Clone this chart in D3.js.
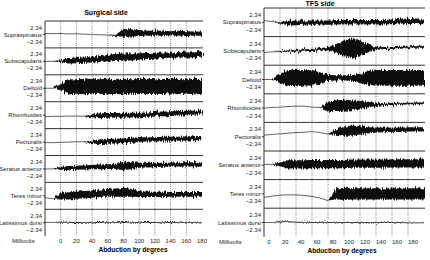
<!DOCTYPE html>
<html>
<head>
<meta charset="utf-8">
<script src="https://cdn.jsdelivr.net/npm/d3@7"></script>
<style>
  body { margin: 0; background: #fff; }
  svg { display: block; font-family: 'Liberation Sans', Arial, sans-serif; }
</style>
</head>
<body>
<div id="chart"></div>
<script>
'use strict';

// abduction angle (degrees) at which each envelope value was read
const degrees = [-20, -10, 0, 10, 20, 30, 40, 50, 60, 70, 80, 90, 100, 110, 120, 130, 140, 150, 160, 170, 180];
const tickDegrees = [0, 20, 40, 60, 80, 100, 120, 140, 160, 180];
const gridDegrees = [0, 20, 40, 60, 80, 100, 120, 140, 160];
const muscles = ['Supraspinatus', 'Subscapularis', 'Deltoid', 'Rhomboides', 'Pectoralis',
  'Seratus anterior', 'Teres minor', 'Latissimus dorsi'];
const rangeMv = 2.34;

// baseline drift of each trace (mV)
const surgicalOffsets = [
  [0.3, 0.3, 0.3, 0.2, 0.2, 0.1, 0, -0.1, -0.2, -0.3, 0.5, 0.5, 0.5, 0.4, 0.4, 0.4, 0.4, 0.4, 0.3, 0.3, 0.3],
  [0, 0, 0.1, 0.2, 0.3, 0.4, 0.6, 0.8, 1.1, 1.3, 1.4, 1.5, 1.6, 1.8, 1.9, 2.0, 2.1, 2.2, 2.3, 2.4, 2.5],
  [0, 0, 0.3, 0.5, 0.6, 0.6, 0.6, 0.6, 0.6, 0.6, 0.6, 0.6, 0.6, 0.6, 0.6, 0.6, 0.6, 0.6, 0.6, 0.6, 0.6],
  [-0.5, -0.4, -0.4, -0.3, -0.3, -0.4, -0.2, -0.2, -0.1, -0.1, 0, 0, 0.1, 0.2, 0.3, 0.4, 0.5, 0.6, 0.7, 0.8, 0.9],
  [-0.2, -0.2, -0.1, 0, 0.1, 0.1, 0, 0.1, 0.2, 0.3, 0.4, 0.6, 0.8, 0.9, 0.9, 1.0, 1.0, 1.1, 1.2, 1.3, 1.3],
  [0, 0, 0.2, 0.3, 0.4, 0.5, 0.6, 0.7, 0.8, 0.9, 1.0, 1.1, 1.2, 1.3, 1.3, 1.4, 1.4, 1.5, 1.5, 1.5, 1.5],
  [-0.6, -1.0, -0.2, 0, 0.2, 0.4, 0.6, 0.8, 1.0, 1.1, 1.2, 1.0, 0.6, 0.5, 0.5, 0.5, 0.5, 0.5, 0.5, 0.5, 0.5],
  [0.1, 0.1, 0.1, 0.1, 0.1, 0.1, 0.1, 0.1, 0.1, 0.1, 0.1, 0.1, 0.1, 0.1, 0.1, 0.1, 0.1, 0.1, 0.1, 0.1, 0.1]
];

// half width of the EMG burst envelope (mV)
const surgicalAmps = [
  [0, 0, 0, 0, 0, 0, 0, 0, 0, 0.2, 1.3, 1.2, 1.0, 0.8, 0.8, 0.8, 0.7, 0.8, 0.8, 0.7, 0.7],
  [0, 0, 0.3, 0.9, 0.9, 0.9, 1.0, 1.0, 1.1, 1.2, 1.2, 1.2, 1.1, 1.0, 1.0, 0.9, 0.9, 0.9, 1.0, 1.0, 1.0],
  [0, 0, 1.0, 2.5, 2.4, 2.6, 2.5, 2.4, 2.6, 2.5, 2.6, 2.4, 2.5, 2.6, 2.4, 2.5, 2.6, 2.5, 2.4, 2.6, 2.5],
  [0, 0, 0, 0, 0, 0, 0.5, 0.8, 0.8, 0.8, 0.8, 0.8, 0.8, 0.7, 0.8, 0.8, 0.8, 0.8, 0.8, 0.7, 0.7],
  [0, 0, 0, 0, 0, 0, 0.4, 0.8, 0.8, 0.8, 0.8, 0.8, 0.8, 0.7, 0.7, 0.8, 0.8, 0.7, 0.7, 0.7, 0.7],
  [0, 0, 0.5, 0.7, 0.7, 0.7, 0.7, 0.8, 0.8, 0.8, 1.4, 1.2, 0.8, 0.8, 0.7, 0.7, 0.7, 0.7, 0.7, 0.7, 0.7],
  [0, 0, 1.0, 1.2, 1.2, 1.2, 1.2, 1.2, 1.3, 1.4, 1.5, 1.3, 1.0, 0.9, 0.9, 0.9, 0.8, 0.8, 0.8, 0.8, 0.8],
  [0, 0, 0.1, 0.1, 0.15, 0.1, 0.1, 0.15, 0.1, 0.1, 0.15, 0.1, 0.1, 0.15, 0.1, 0.1, 0.15, 0.1, 0.1, 0.1, 0.1]
];

const tfsOffsets = [
  [0.5, 0.3, -0.2, -0.2, -0.2, -0.1, -0.1, -0.1, -0.1, 0, 0, 0, 0, 0, 0, 0, 0.1, 0.4, 0.3, 0.2, 0.1],
  [-0.5, -0.3, -0.2, -0.1, 0, 0.2, 0.3, 0.5, 0.7, 0.8, 0.8, 0.8, 0.8, 0.8, 0.8, 0.9, 0.9, 1.0, 1.1, 1.3, 1.3],
  [0, 0, 0.3, 0.5, 0.5, 0.5, 0.5, 0.5, 0.5, 0.5, 0.5, 0.5, 0.5, 0.5, 0.5, 0.5, 0.5, 0.5, 0.5, 0.5, 0.5],
  [0, 0.2, 0.3, 0.5, 0.6, 0.6, 0.3, 0.2, 0.6, 0.8, 0.9, 0.9, 0.9, 1.1, 1.2, 1.2, 1.3, 1.4, 1.4, 1.5, 1.5],
  [0.5, 0.7, 0.9, 1.1, 1.3, 1.4, 1.6, 1.3, 0.8, 1.5, 1.7, 1.9, 2.0, 2.0, 2.1, 2.1, 2.2, 2.2, 2.3, 2.3, 2.3],
  [0.3, 0.3, 0.3, 0.3, 0.3, 0.3, 0.4, 0.4, 0.4, 0.4, 0.4, 0.5, 0.5, 0.5, 0.5, 0.5, 0.6, 0.6, 0.6, 0.6, 0.6],
  [-1.1, -0.7, -0.4, -0.3, -0.3, -0.5, -0.8, -1.3, -2.1, 0, 0, 0, 0, 0, 0, 0, 0, 0, 0, 0, 0],
  [0, 0, 0.2, 0.3, 0.1, 0, 0, 0, 0, 0, 0, 0, 0, 0, 0, 0, 0, 0, -0.1, -0.1, -0.1]
];

const tfsAmps = [
  [0, 0, 0.2, 0.7, 0.7, 0.7, 0.7, 0.7, 0.7, 0.7, 0.7, 0.7, 0.7, 0.7, 0.7, 0.7, 0.7, 0.8, 0.8, 0.7, 0.7],
  [0, 0, 0.1, 0.25, 0.3, 0.3, 0.3, 0.4, 0.5, 1.3, 2.5, 3.1, 2.5, 1.3, 0.5, 0.3, 0.3, 0.3, 0.3, 0.3, 0.3],
  [0, 0, 1.5, 2.5, 2.6, 2.4, 2.5, 1.8, 1.0, 0.8, 0.8, 0.9, 1.3, 2.2, 2.5, 2.5, 2.5, 2.5, 2.5, 2.5, 2.5],
  [0, 0, 0, 0, 0, 0, 0, 0, 1.4, 1.7, 1.7, 1.6, 1.3, 0.9, 0.5, 0.3, 0.3, 0.3, 0.3, 0.3, 0.3],
  [0, 0, 0, 0, 0, 0, 0, 0, 0, 0.9, 1.4, 1.6, 1.3, 1.0, 0.8, 0.7, 0.7, 0.7, 0.7, 0.7, 0.7],
  [0, 0, 0.6, 1.3, 1.3, 1.3, 1.3, 1.3, 1.3, 1.3, 1.3, 1.3, 1.3, 1.3, 1.3, 1.3, 1.3, 1.3, 1.3, 1.3, 1.3],
  [0, 0, 0, 0, 0, 0, 0, 0, 0, 1.7, 1.9, 1.8, 1.8, 1.8, 1.8, 1.8, 1.8, 1.8, 1.8, 1.8, 1.8],
  [0, 0, 0.1, 0.1, 0.05, 0.05, 0.05, 0.05, 0.05, 0.05, 0.05, 0.05, 0.05, 0.05, 0.05, 0.05, 0.05, 0.05, 0.05, 0.05, 0.05]
];

(function() {
  const width = 430;
  const height = 260;

  const panels = [
    {title: 'Surgical side', offsets: surgicalOffsets, amps: surgicalAmps,
      left: 45, right: 202, top: 21, rowH: 26.9, titleX: 106, titleY: 15,
      tickDx: 0, tickY: 243, mvX: 12, xTitleX: 133, xTitleY: 252},
    {title: 'TFS side', offsets: tfsOffsets, amps: tfsAmps,
      left: 264, right: 424, top: 8, rowH: 28.6, titleX: 320, titleY: 6,
      tickDx: -11, tickY: 244, mvX: 219, xTitleX: 342, xTitleY: 253}
  ];

  const svg = d3.select('#chart')
    .append('svg')
    .attr('width', width)
    .attr('height', height);

  // ragged edge texture for the EMG bands
  const filter = svg.append('defs').append('filter')
    .attr('id', 'emg')
    .attr('x', '-2%').attr('y', '-60%')
    .attr('width', '104%').attr('height', '220%');
  filter.append('feTurbulence')
    .attr('type', 'fractalNoise')
    .attr('baseFrequency', '0.9 0.03')
    .attr('numOctaves', 2)
    .attr('seed', 4)
    .attr('result', 'noise');
  filter.append('feDisplacementMap')
    .attr('in', 'SourceGraphic')
    .attr('in2', 'noise')
    .attr('scale', 6)
    .attr('xChannelSelector', 'R')
    .attr('yChannelSelector', 'G');

  panels.forEach(function(p) {
    const g = svg.append('g');
    const bottom = p.top + p.rowH * muscles.length;

    const x = d3.scaleLinear()
      .domain([-20, 180])
      .range([p.left, p.right]);

    // vertical dotted grid
    g.selectAll('.grid')
      .data(gridDegrees)
      .enter()
      .append('line')
      .attr('x1', d => x(d)).attr('x2', d => x(d))
      .attr('y1', p.top).attr('y2', bottom)
      .attr('stroke', '#555')
      .attr('stroke-width', 0.8)
      .attr('stroke-dasharray', '1,1.2');

    // row separators
    g.selectAll('.sep')
      .data(d3.range(muscles.length))
      .enter()
      .append('line')
      .attr('x1', p.left).attr('x2', p.right + 1)
      .attr('y1', i => p.top + i * p.rowH).attr('y2', i => p.top + i * p.rowH)
      .attr('stroke', '#333')
      .attr('stroke-width', 1);

    g.append('line')
      .attr('x1', p.left).attr('x2', p.left)
      .attr('y1', p.top).attr('y2', bottom)
      .attr('stroke', '#333')
      .attr('stroke-width', 1);

    muscles.forEach(function(name, i) {
      const y = d3.scaleLinear()
        .domain([-4.5, 4.5])
        .range([p.top + (i + 1) * p.rowH, p.top + i * p.rowH]);

      const pts = degrees.map((d, k) => ({deg: d, off: p.offsets[i][k], amp: p.amps[i][k]}));

      const area = d3.area()
        .x(d => x(d.deg))
        .y0(d => y(d.off - d.amp))
        .y1(d => y(d.off + d.amp));

      const line = d3.line()
        .x(d => x(d.deg))
        .y(d => y(d.off));

      g.append('path')
        .attr('d', line(pts))
        .attr('fill', 'none')
        .attr('stroke', '#222')
        .attr('stroke-width', 0.7);

      g.append('path')
        .attr('d', area(pts))
        .attr('fill', '#111')
        .attr('filter', 'url(#emg)');

      g.append('line')
        .attr('x1', p.left - 2).attr('x2', p.left)
        .attr('y1', y(0)).attr('y2', y(0))
        .attr('stroke', '#333');

      const labels = [[rangeMv, '2.34'], [0, name], [-rangeMv, '\u22122.34']];
      g.selectAll('.lab' + i)
        .data(labels)
        .enter()
        .append('text')
        .attr('x', p.left - 3)
        .attr('y', d => y(d[0]))
        .attr('dy', '0.35em')
        .attr('text-anchor', 'end')
        .attr('font-size', 6)
        .attr('fill', '#222')
        .text(d => d[1]);
    });

    g.selectAll('.tick')
      .data(tickDegrees)
      .enter()
      .append('text')
      .attr('x', d => x(d) + p.tickDx)
      .attr('y', p.tickY)
      .attr('text-anchor', 'middle')
      .attr('font-size', 6)
      .attr('fill', '#222')
      .text(d => d);

    g.append('text')
      .attr('x', p.mvX)
      .attr('y', p.tickY)
      .attr('font-size', 6)
      .attr('fill', '#222')
      .text('Millivolts');

    g.append('text')
      .attr('x', p.xTitleX)
      .attr('y', p.xTitleY)
      .attr('text-anchor', 'middle')
      .attr('font-size', 6.6)
      .attr('font-weight', 'bold')
      .attr('fill', '#000')
      .text('Abduction by degrees');

    g.append('text')
      .attr('x', p.titleX)
      .attr('y', p.titleY)
      .attr('text-anchor', 'middle')
      .attr('font-size', 7)
      .attr('font-weight', 'bold')
      .attr('fill', '#000')
      .text(p.title);
  });
})();
</script>
</body>
</html>
